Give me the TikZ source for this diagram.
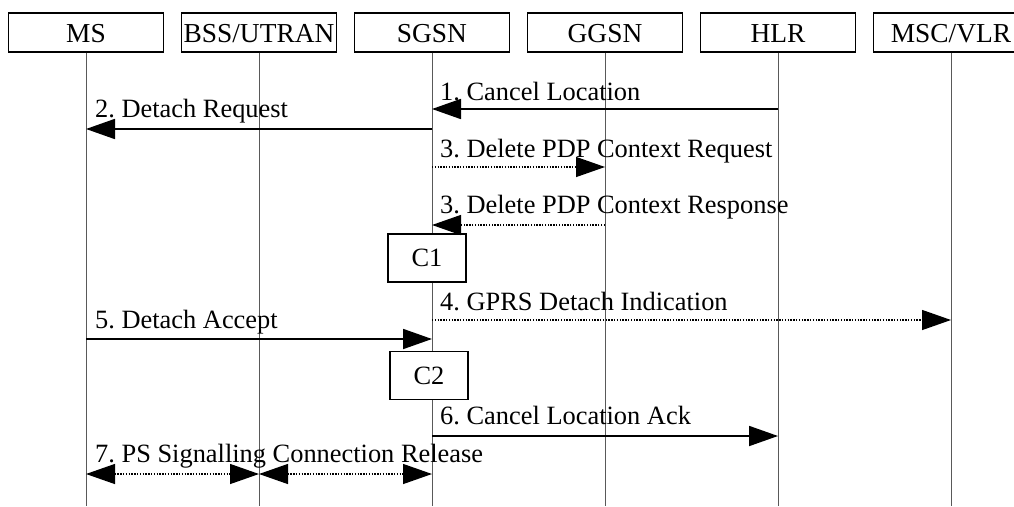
\documentclass[tikz,border=0pt]{standalone}
\usepackage{fontspec}
\setmainfont{Liberation Serif}
\usetikzlibrary{arrows.meta}
\frenchspacing
\begin{document}
\begin{tikzpicture}[x=1pt,y=-1pt,
  txt/.style={font=\fontsize{26.4}{30}\selectfont\frenchspacing},
  hdr/.style={font=\fontsize{27.4}{30}\selectfont,draw,line width=1.2pt,minimum width=155pt,minimum height=39pt,inner sep=0pt,fill=white,text height=24pt,text depth=4pt},
  cbox/.style={txt,draw,line width=1.2pt,minimum width=78pt,minimum height=48pt,inner sep=0pt,fill=white},
  life/.style={draw=black!65,line width=1pt},
  tip/.style={-{Triangle[length=29pt,width=20pt]}},
  msg/.style={tip,line width=1.8pt},
  dmsg/.style={tip,line width=1.3pt,dash pattern=on 1.4pt off 1.4pt},
  ddmsg/.style={{Triangle[length=29pt,width=20pt]}-{Triangle[length=29pt,width=20pt]},line width=1.3pt,dash pattern=on 1.4pt off 1.4pt},
  lbl/.style={txt,anchor=base west,inner sep=0pt}
]
\useasboundingbox (0,0) rectangle (1014,506);
\clip (0,0) rectangle (1014,506);
% lifeline bottoms
\coordinate (msE) at (86,506);
\coordinate (bssE) at (259,506);
\coordinate (sgsnE) at (432,506);
\coordinate (ggsnE) at (605,506);
\coordinate (hlrE) at (778,506);
\coordinate (mscE) at (951,506);
% headers
\node[hdr] (ms) at (86,32.5) {MS};
\node[hdr] (bss) at (259,32.5) {BSS/UTRAN};
\node[hdr] (sgsn) at (432,32.5) {SGSN};
\node[hdr] (ggsn) at (605,32.5) {GGSN};
\node[hdr] (hlr) at (778,32.5) {HLR};
\node[hdr] (msc) at (951,32.5) {MSC/VLR};
\draw[life] (ms.south) -- (msE);
\draw[life] (bss.south) -- (bssE);
\draw[life] (sgsn.south) -- (sgsnE);
\draw[life] (ggsn.south) -- (ggsnE);
\draw[life] (hlr.south) -- (hlrE);
\draw[life] (msc.south) -- (mscE);
% boxes
\node[cbox] (c1) at (427,258) {C1};
\node[cbox] (c2) at (429,375.5) {C2};
% message end points
\coordinate (m1a) at (778,109); \coordinate (m1b) at (432,109);
\coordinate (m2a) at (432,129); \coordinate (m2b) at (86,129);
\coordinate (m3a) at (432,167); \coordinate (m3b) at (605,167);
\coordinate (m4a) at (605,225); \coordinate (m4b) at (432,225);
\coordinate (m5a) at (432,320); \coordinate (m5b) at (951,320);
\coordinate (m6a) at (86,339); \coordinate (m6b) at (432,339);
\coordinate (m7a) at (432,436); \coordinate (m7b) at (778,436);
\coordinate (m8a) at (86,474); \coordinate (m8b) at (259,474); \coordinate (m8c) at (432,474);
% messages
\draw[msg] (m1a) -- (m1b);
\node[lbl] (l1) at (440,100) {1. Cancel Location};
\draw[msg] (m2a) -- (m2b);
\node[lbl] (l2) at (95,117) {2. Detach Request};
\draw[dmsg] (m3a) -- (m3b);
\node[lbl] (l3) at (440,157) {3. Delete PDP Context Request};
\draw[dmsg] (m4a) -- (m4b);
\node[lbl] (l4) at (440,213) {3. Delete PDP Context Response};
\draw[dmsg] (m5a) -- (m5b);
\node[lbl] (l5) at (440,310) {4. GPRS Detach Indication};
\draw[msg] (m6a) -- (m6b);
\node[lbl] (l6) at (95,328) {5. Detach Accept};
\draw[msg] (m7a) -- (m7b);
\node[lbl] (l7) at (440,424) {6. Cancel Location Ack};
\draw[ddmsg] (m8a) -- (m8b);
\draw[ddmsg] (m8b) -- (m8c);
\node[lbl] (l8) at (95,462) {7. PS Signalling Connection Release};
\end{tikzpicture}
\end{document}
